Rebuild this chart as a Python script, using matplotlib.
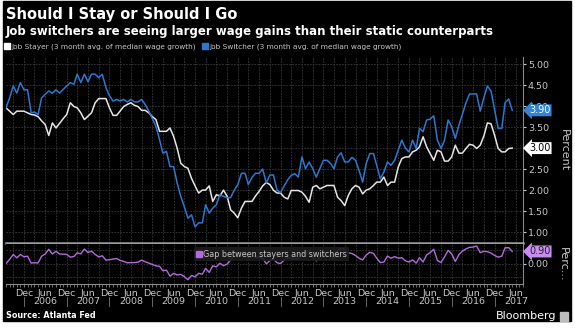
import numpy as np
import pandas as pd
import matplotlib
matplotlib.use("Agg")
import matplotlib.pyplot as plt
import matplotlib.dates as mdates
from matplotlib.lines import Line2D
from matplotlib.patches import Rectangle
from matplotlib.transforms import blended_transform_factory

# monthly data, Jul 2005 - May 2017
start_month = "2005-07-01"

switcher = [
    3.96, 4.20, 4.48, 4.31, 4.56, 4.39, 4.39, 3.84, 3.86, 3.80, 4.20, 4.28,
    4.36, 4.31, 4.39, 4.31, 4.40, 4.48, 4.56, 4.52, 4.76, 4.56, 4.76, 4.58,
    4.76, 4.76, 4.68, 4.76, 4.44, 4.25, 4.12, 4.16, 4.12, 4.16, 4.10, 4.16,
    4.10, 4.10, 4.16, 4.04, 3.88, 3.70, 3.52, 3.20, 2.88, 2.92, 2.56, 2.56,
    2.17, 1.85, 1.60, 1.33, 1.41, 1.13, 1.22, 1.22, 1.65, 1.45, 1.57, 1.65,
    1.89, 1.85, 1.82, 1.82, 2.00, 2.13, 2.40, 2.40, 2.13, 2.30, 2.40, 2.40,
    2.50, 2.17, 2.36, 2.36, 2.00, 1.94, 2.10, 2.25, 2.35, 2.39, 2.31, 2.79,
    2.51, 2.67, 2.51, 2.31, 2.51, 2.71, 2.71, 2.63, 2.51, 2.79, 2.89, 2.67,
    2.67, 2.78, 2.71, 2.47, 2.19, 2.63, 2.87, 2.87, 2.59, 2.27, 2.43, 2.67,
    2.59, 2.71, 2.95, 3.19, 3.00, 2.91, 3.19, 2.99, 3.47, 3.39, 3.67, 3.69,
    3.77, 3.19, 2.99, 3.19, 3.67, 3.51, 3.23, 3.55, 3.80, 4.08, 4.29, 4.29,
    4.29, 3.88, 4.20, 4.48, 4.36, 3.92, 3.47, 3.47, 4.08, 4.17, 3.90,
]

stayer = [
    3.96, 3.88, 3.80, 3.88, 3.88, 3.88, 3.84, 3.80, 3.79, 3.75, 3.65, 3.56,
    3.30, 3.60, 3.48, 3.59, 3.70, 3.80, 4.08, 3.99, 3.96, 3.84, 3.68, 3.76,
    3.84, 4.08, 4.18, 4.18, 4.18, 3.96, 3.78, 3.78, 3.88, 3.99, 4.04, 4.08,
    4.02, 3.99, 3.90, 3.90, 3.84, 3.75, 3.68, 3.40, 3.40, 3.40, 3.48, 3.28,
    3.00, 2.64, 2.56, 2.52, 2.28, 2.10, 1.93, 2.00, 2.00, 2.10, 1.73, 1.89,
    1.86, 2.00, 1.85, 1.53, 1.45, 1.34, 1.57, 1.73, 1.73, 1.73, 1.86, 1.97,
    2.10, 2.18, 2.13, 2.00, 1.93, 1.93, 1.83, 1.79, 1.99, 1.99, 1.99, 1.95,
    1.85, 1.71, 2.07, 2.11, 2.03, 2.07, 2.11, 2.11, 2.11, 1.83, 1.75, 1.63,
    1.87, 2.03, 2.11, 2.07, 1.91, 2.00, 2.03, 2.11, 2.19, 2.19, 2.31, 2.11,
    2.19, 2.19, 2.55, 2.75, 2.79, 2.79, 2.91, 2.95, 3.03, 3.27, 3.03, 2.87,
    2.71, 2.95, 2.91, 2.69, 2.69, 2.79, 3.07, 2.88, 2.88, 2.99, 3.09, 3.07,
    2.99, 3.07, 3.29, 3.60, 3.58, 3.31, 2.99, 2.91, 2.91, 2.99, 3.00,
]

main_ticks = [1.0, 1.5, 2.0, 2.5, 3.0, 3.5, 4.0, 4.5, 5.0]
gap_ticks = [0.0]
years = list(range(2006, 2018))

dates = pd.date_range(start_month, periods=len(switcher), freq="MS")
sw = np.array(switcher)
st = np.array(stayer)
gap = sw - st

BLUE = "#2a78d0"
WHITE = "#e6e6e6"
PURPLE = "#b36ae0"
GRID = "#3a3a3a"
TXT = "#c8c8c8"

fig = plt.figure(figsize=(5.75, 3.28), dpi=100, facecolor="white")
fig.patches.append(Rectangle((3 / 575, 7 / 328), 568 / 575, 320 / 328,
                             transform=fig.transFigure, color="black", zorder=-5))

W, H = 575.0, 328.0
ax = fig.add_axes([6 / W, 1 - 243 / H, 517 / W, 186 / H])
axg = fig.add_axes([6 / W, 1 - 284 / H, 517 / W, 40 / H], sharex=ax)

xmin = pd.Timestamp("2005-07-01")
xmax = pd.Timestamp("2017-08-01")

for a in (ax, axg):
    a.set_facecolor("black")
    a.set_xlim(xmin, xmax)
    a.xaxis.set_major_locator(mdates.MonthLocator(bymonth=(3, 6, 9, 12)))
    a.xaxis.set_minor_locator(mdates.MonthLocator())
    a.grid(True, which="major", color=GRID, linestyle=(0, (2, 1.5)), linewidth=0.6)
    a.yaxis.tick_right()
    a.tick_params(axis="y", colors=TXT, labelsize=6.8, length=2, pad=1.5)
    for s in a.spines.values():
        s.set_visible(False)

# main panel
ax.plot(dates, st, color=WHITE, lw=1.1, zorder=3)
ax.plot(dates, sw, color=BLUE, lw=1.1, zorder=4)
ax.set_ylim(0.74, 5.17)
ax.set_yticks(main_ticks)
ax.yaxis.set_major_formatter(plt.FuncFormatter(lambda v, p: f"{v:.2f}"))
ax.tick_params(axis="x", which="both", length=0, labelbottom=False)
ax.spines["right"].set_visible(True)
ax.spines["right"].set_color("#888888")
ax.spines["bottom"].set_visible(True)
ax.spines["bottom"].set_color("#9a9a9a")
ax.spines["bottom"].set_linewidth(1.8)
ax.set_ylabel("Percent", rotation=270, color=TXT, fontsize=8, labelpad=14)
ax.yaxis.set_label_position("right")

tag_x = 1.012
ax.annotate(f"{sw[-1]:.2f}", xy=(tag_x, sw[-1]), xycoords=("axes fraction", "data"),
            va="center", ha="left", fontsize=7, color="white", zorder=10,
            bbox=dict(boxstyle="larrow,pad=0.1", fc="#2f84e0", ec="none"))
ax.annotate(f"{st[-1]:.2f}", xy=(tag_x, st[-1]), xycoords=("axes fraction", "data"),
            va="center", ha="left", fontsize=7, color="black", zorder=10,
            bbox=dict(boxstyle="larrow,pad=0.1", fc="white", ec="none"))

# gap panel
axg.plot(dates, gap, color=PURPLE, lw=1.0, zorder=3)
axg.set_ylim(-1.5, 1.45)
axg.set_yticks(gap_ticks)
axg.yaxis.set_major_formatter(plt.FuncFormatter(lambda v, p: f"{v:.2f}"))
axg.set_yticks([-1.0, 1.0], minor=True)
axg.tick_params(axis="y", which="minor", length=0)
axg.grid(True, which="minor", axis="y", color=GRID, linestyle=(0, (2, 1.5)), linewidth=0.6)
axg.spines["right"].set_visible(True)
axg.spines["right"].set_color("#888888")
axg.spines["bottom"].set_visible(True)
axg.spines["bottom"].set_color("#888888")
axg.set_ylabel("Perc...", rotation=270, color=TXT, fontsize=8, labelpad=14)
axg.yaxis.set_label_position("right")
axg.annotate(f"{gap[-1]:.2f}", xy=(tag_x, gap[-1]), xycoords=("axes fraction", "data"),
             va="center", ha="left", fontsize=7, color="#222222", zorder=10,
             bbox=dict(boxstyle="larrow,pad=0.1", fc="#c98cf0", ec="none"))

axg.tick_params(axis="x", which="minor", length=2, color="#777777")
axg.tick_params(axis="x", which="major", length=2, color="#777777",
                colors=TXT, labelsize=6.8, pad=1.5)
axg.xaxis.set_major_formatter(plt.FuncFormatter(
    lambda v, p: {6: "Jun", 12: "Dec"}.get(mdates.num2date(v).month, "")))

trans = blended_transform_factory(axg.transData, axg.transAxes)
for y in years:
    axg.text(pd.Timestamp(f"{y}-06-01"), -0.43, str(y), transform=trans,
             ha="center", va="center", color=TXT, fontsize=6.8)
    axg.plot([pd.Timestamp(f"{y - 1}-12-01")] * 2, [-0.32, -0.55], transform=trans,
             color="#777777", lw=0.6, clip_on=False)

leg_g = axg.legend([Line2D([], [], marker="s", ls="none", color=PURPLE, markersize=4.5)],
                   ["Gap between stayers and switchers"], loc="upper left",
                   bbox_to_anchor=(0.355, 1.02), fontsize=5.8, frameon=True,
                   facecolor="#1c1c1c", edgecolor="none", framealpha=0.9,
                   handletextpad=0.1, borderpad=0.3, handlelength=0.8)
for t in leg_g.get_texts():
    t.set_color(TXT)

# titles and legend
fig.text(6 / W, 1 - 15 / H, "Should I Stay or Should I Go", color="white",
         fontsize=10.5, fontweight="bold", va="center", ha="left")
fig.text(6 / W, 1 - 32 / H,
         "Job switchers are seeing larger wage gains than their static counterparts",
         color="white", fontsize=8.5, fontweight="bold", va="center", ha="left")
handles = [Line2D([], [], marker="s", ls="none", color="white", markersize=4),
           Line2D([], [], marker="s", ls="none", color=BLUE, markersize=4)]
leg = fig.legend(handles, ["Job Stayer (3 month avg. of median wage growth)",
                           "Job Switcher (3 month avg. of median wage growth)"],
                 loc="center left", bbox_to_anchor=(0.0, 1 - 47 / H), ncol=2,
                 frameon=False, fontsize=5.3, handletextpad=0.3, handlelength=0.6,
                 columnspacing=0.9, borderaxespad=0.3)
for t in leg.get_texts():
    t.set_color(TXT)

fig.text(6 / W, 1 - 316 / H, "Source: Atlanta Fed", color="white",
         fontsize=5.8, fontweight="bold", va="center", ha="left")
fig.text(556 / W, 1 - 316 / H, "Bloomberg", color="white",
         fontsize=8, va="center", ha="right")
fig.patches.append(Rectangle((560 / W, 1 - 321 / H), 8 / W, 9 / H,
                             transform=fig.transFigure, color="#bdbdbd", zorder=2))

fig.savefig("out.png", dpi=100, facecolor=fig.get_facecolor())
